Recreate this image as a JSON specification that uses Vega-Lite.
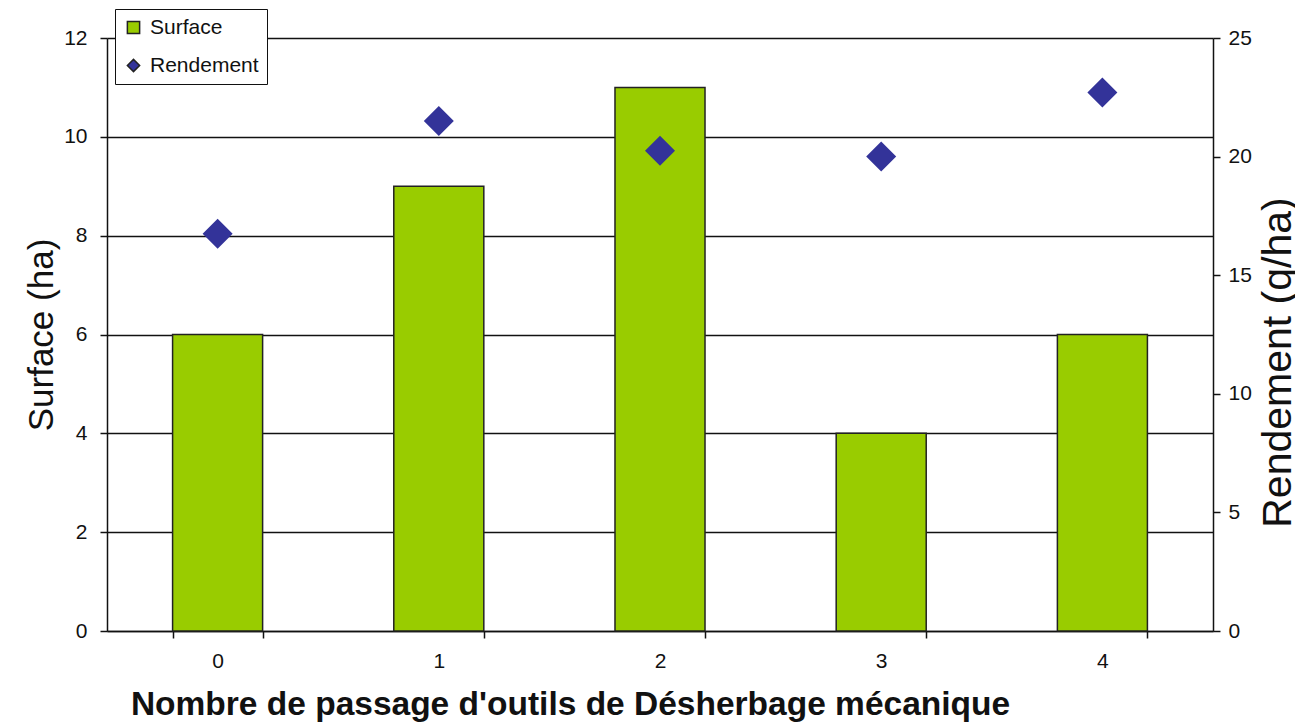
{
  "$schema": "https://vega.github.io/schema/vega-lite/v6.json",
  "width": 1106,
  "height": 593,
  "autosize": {"type": "none"},
  "padding": {"left": 107, "top": 38, "right": 82, "bottom": 92},
  "background": "white",
  "config": {
    "view": {"stroke": null},
    "font": "Liberation Sans",
    "axis": {
      "labelFont": "Liberation Sans",
      "titleFont": "Liberation Sans",
      "labelColor": "#111",
      "titleColor": "#111",
      "domainColor": "#111",
      "tickColor": "#111",
      "labelFontSize": 21,
      "tickSize": 7,
      "domainWidth": 1.5,
      "tickWidth": 1.5
    },
    "legend": {
      "orient": "none",
      "legendX": 8,
      "legendY": -29,
      "direction": "vertical",
      "strokeColor": "#111",
      "fillColor": "white",
      "padding": 8,
      "labelFont": "Liberation Sans",
      "labelFontSize": 21,
      "labelColor": "#111",
      "symbolSize": 150,
      "symbolOpacity": 1,
      "rowPadding": 16,
      "labelOffset": 6
    }
  },
  "data": {
    "values": [
      {"passages": "0", "surface": 6, "rendement": 16.75},
      {"passages": "1", "surface": 9, "rendement": 21.5},
      {"passages": "2", "surface": 11, "rendement": 20.25},
      {"passages": "3", "surface": 4, "rendement": 20.0},
      {"passages": "4", "surface": 6, "rendement": 22.7}
    ]
  },
  "encoding": {
    "x": {
      "field": "passages",
      "type": "ordinal",
      "scale": {"paddingInner": 0.593, "paddingOuter": 0.2965},
      "axis": {
        "title": "Nombre de passage d'outils de Désherbage mécanique",
        "titleFontSize": 33.5,
        "titleFontWeight": "bold",
        "titleX": 463,
        "labelAngle": 0,
        "labelPadding": 12,
        "titlePadding": 17,
        "tickBand": "extent",
        "grid": false
      }
    }
  },
  "layer": [
    {
      "mark": {"type": "bar", "stroke": "#222", "strokeWidth": 1.5},
      "encoding": {
        "y": {
          "field": "surface",
          "type": "quantitative",
          "scale": {"domain": [0, 12]},
          "axis": {
            "title": "Surface (ha)",
            "titleFontSize": 35,
            "titleFontWeight": "normal",
            "values": [0, 2, 4, 6, 8, 10, 12],
            "grid": true,
            "gridColor": "#111",
            "gridWidth": 1.5,
            "gridOpacity": 1,
            "labelPadding": 13,
            "titlePadding": 4
          }
        },
        "color": {
          "datum": "Surface",
          "scale": {"domain": ["Surface", "Rendement"], "range": ["#99cc00", "#333399"]},
          "legend": {
            "title": null,
            "orient": "none",
            "legendX": 8,
            "legendY": -29,
            "encode": {
              "symbols": {
                "update": {
                  "stroke": {"signal": "datum.value === 'Surface' ? '#222' : 'transparent'"},
                  "strokeWidth": {"value": 1.5}
                }
              }
            }
          }
        }
      }
    },
    {
      "mark": {"type": "point", "filled": true, "size": 900, "opacity": 1},
      "encoding": {
        "y": {
          "field": "rendement",
          "type": "quantitative",
          "scale": {"domain": [0, 25]},
          "axis": {
            "orient": "right",
            "title": "Rendement (q/ha)",
            "titleFontSize": 41,
            "titleFontWeight": "normal",
            "titleAngle": 270,
            "titleBaseline": "top",
            "titleY": 324,
            "values": [0, 5, 10, 15, 20, 25],
            "grid": false,
            "labelPadding": 8,
            "titlePadding": 7
          }
        },
        "color": {"datum": "Rendement", "legend": {"title": null}},
        "shape": {
          "datum": "Rendement",
          "scale": {"domain": ["Surface", "Rendement"], "range": ["square", "diamond"]},
          "legend": {"title": null}
        }
      }
    }
  ],
  "resolve": {"scale": {"y": "independent"}}
}
